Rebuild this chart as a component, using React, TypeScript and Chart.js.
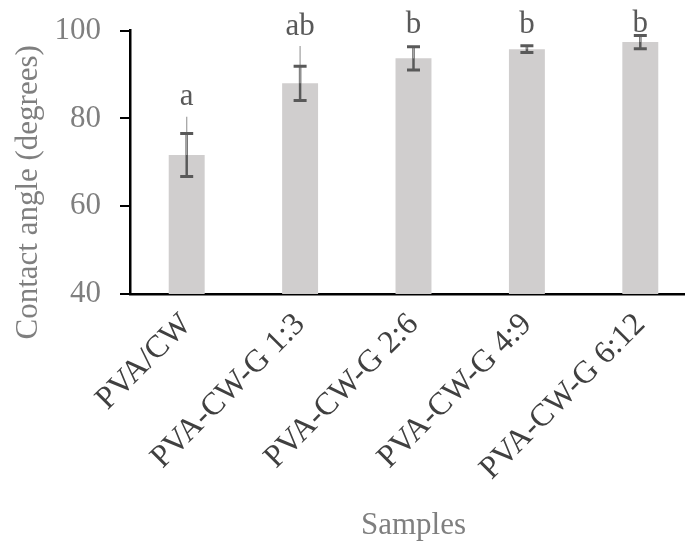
import React, { useEffect, useRef } from "react";
import { Chart, registerables } from "chart.js";

Chart.register(...registerables);

// ---- data ----
const categories = ["PVA/CW", "PVA-CW-G 1:3", "PVA-CW-G 2:6", "PVA-CW-G 4:9", "PVA-CW-G 6:12"];
const contactAngle = [71.7, 88.0, 93.7, 95.8, 97.4];
const errorSD = [4.9, 3.9, 2.65, 0.75, 1.5];
const errorUpperRange = [8.7, 8.5, 2.65, 0.75, 1.5];
const groupLetters = ["a", "ab", "b", "b", "b"];
const letterAt = [83.1, 99.0, 99.5, 99.5, 99.8];
const yTicks = [40, 60, 80, 100];
const yTitle = "Contact angle (degrees)";
const xTitle = "Samples";

const FONT = "'Liberation Serif', 'Times New Roman', serif";

const overlayPlugin = {
  id: "overlay",
  afterDatasetsDraw(chart: any) {
    const ctx = chart.ctx as CanvasRenderingContext2D;
    const xs = chart.scales.x;
    const ys = chart.scales.y;
    ctx.save();
    categories.forEach((_, i) => {
      const cx = xs.getPixelForValue(i);
      const m = contactAngle[i];
      const yHi = ys.getPixelForValue(m + errorSD[i]);
      const yLo = ys.getPixelForValue(m - errorSD[i]);
      const yMean = ys.getPixelForValue(m);
      const yUp2 = ys.getPixelForValue(m + errorUpperRange[i]);
      ctx.strokeStyle = "#595959";
      ctx.lineWidth = 2.5;
      ctx.beginPath();
      ctx.moveTo(cx, yLo);
      ctx.lineTo(cx, yHi);
      ctx.stroke();
      ctx.strokeStyle = "#a6a6a6";
      ctx.lineWidth = 1.3;
      ctx.beginPath();
      ctx.moveTo(cx, yMean);
      ctx.lineTo(cx, yUp2);
      ctx.stroke();
      ctx.strokeStyle = "#595959";
      ctx.lineWidth = 3;
      ctx.beginPath();
      ctx.moveTo(cx - 6.5, yHi);
      ctx.lineTo(cx + 6.5, yHi);
      ctx.moveTo(cx - 6.5, yLo);
      ctx.lineTo(cx + 6.5, yLo);
      ctx.stroke();
      ctx.fillStyle = "#595959";
      ctx.font = `31px ${FONT}`;
      ctx.textAlign = "center";
      ctx.textBaseline = "alphabetic";
      ctx.fillText(groupLetters[i], cx, ys.getPixelForValue(letterAt[i]));
    });
    ctx.restore();
  },
  afterDraw(chart: any) {
    const ctx = chart.ctx as CanvasRenderingContext2D;
    const area = chart.chartArea;
    ctx.save();
    ctx.translate(area.left - 92.7, (area.top + area.bottom) / 2 + 30);
    ctx.rotate(-Math.PI / 2);
    ctx.font = `31px ${FONT}`;
    ctx.fillStyle = "#7f7f7f";
    ctx.textAlign = "center";
    ctx.textBaseline = "alphabetic";
    ctx.fillText(yTitle, 0, 0);
    ctx.restore();
  },
};

export default function App() {
  const canvasRef = useRef<HTMLCanvasElement | null>(null);

  useEffect(() => {
    const canvas = canvasRef.current;
    if (!canvas) return;
    const chart = new Chart(canvas, {
      type: "bar",
      data: {
        labels: categories,
        datasets: [
          {
            data: contactAngle,
            backgroundColor: "#D0CECE",
            borderWidth: 0,
            barPercentage: 0.317,
            categoryPercentage: 1,
          },
        ],
      },
      options: {
        responsive: false,
        animation: false,
        events: [],
        layout: { padding: { top: 30.7, right: 3, left: 0, bottom: 0 } },
        plugins: {
          legend: { display: false },
          tooltip: { enabled: false },
        },
        scales: {
          x: {
            grid: { display: false, drawTicks: false },
            border: { display: true, color: "#000000", width: 2.5 },
            ticks: {
              autoSkip: false,
              maxRotation: 45,
              minRotation: 45,
              padding: 12,
              color: "#404040",
              font: { family: FONT, size: 32 },
            },
            title: {
              display: true,
              text: xTitle,
              color: "#7f7f7f",
              font: { family: FONT, size: 31 },
              padding: { top: 0, bottom: 1 },
            },
            afterFit(scale: any) {
              scale.height = 251;
            },
          },
          y: {
            min: 40,
            max: 100,
            afterBuildTicks(scale: any) {
              scale.ticks = yTicks.map((v) => ({ value: v }));
            },
            grid: {
              display: true,
              drawOnChartArea: false,
              drawTicks: true,
              tickLength: 10,
              color: "#000000",
              lineWidth: 2,
            },
            border: { display: true, color: "#000000", width: 2.5 },
            ticks: {
              padding: 19,
              color: "#7f7f7f",
              font: { family: FONT, size: 31 },
            },
            afterFit(scale: any) {
              scale.width = 150;
              scale.paddingTop = 0;
              scale.paddingBottom = 0;
            },
          },
        },
      },
      plugins: [overlayPlugin],
    });
    return () => chart.destroy();
  }, []);

  return (
    <div style={{ position: "fixed", left: -20, top: 0, width: 720, height: 545, background: "#ffffff" }}>
      <canvas ref={canvasRef} width={720} height={545} style={{ display: "block" }} />
    </div>
  );
}
